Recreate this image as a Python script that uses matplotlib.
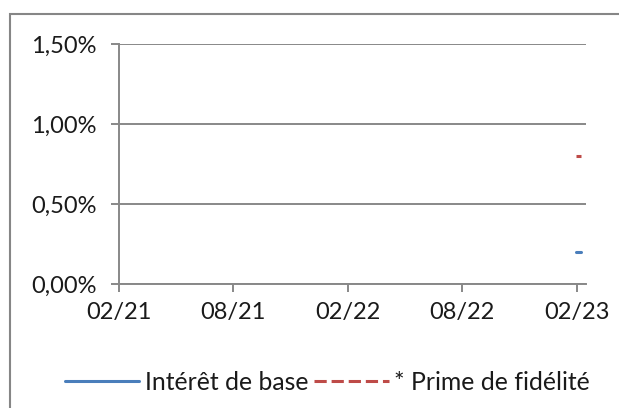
import matplotlib.pyplot as plt
import matplotlib.dates as mdates
import matplotlib.ticker as mticker
from matplotlib.patches import Rectangle
import pandas as pd

# data
dates = pd.to_datetime(['2023-01-30', '2023-02-07'])
interet_base = [0.0020, 0.0020]
prime_fidelite = [0.0080, 0.0080]
x_ticks = pd.to_datetime(['2021-02-01', '2021-08-01', '2022-02-01', '2022-08-01', '2023-02-01'])
y_ticks = [0.0, 0.005, 0.01, 0.015]

plt.rcParams['font.family'] = ['Lato', 'DejaVu Sans']
grid_col = '#888888'
fs = 17.0
fs_leg = 17.8

fig = plt.figure(figsize=(6.19, 4.08), dpi=100)
ax = fig.add_axes([119 / 619, 1 - 284 / 408, (586 - 119) / 619, 240 / 408])

# outer chart border
fig.patches.append(Rectangle((9.5 / 619, -0.05), 1.1, 1 - 14 / 408 + 0.05,
                             transform=fig.transFigure, fill=False,
                             edgecolor='#868686', linewidth=1.5, clip_on=False))

l1, = ax.plot(dates, interet_base, color='#4A7EBB', lw=2.2, solid_capstyle='round',
              label='Intérêt de base')
l2, = ax.plot(dates, prime_fidelite, color='#BE4B48', lw=2.2, ls=(0, (4, 1.6)),
              dash_capstyle='butt', label='* Prime de fidélité')

ax.set_xlim(pd.Timestamp('2021-02-01'), pd.Timestamp('2023-02-15'))
ax.set_ylim(0, 0.015)
ax.set_xticks(x_ticks)
ax.xaxis.set_major_formatter(mdates.DateFormatter('%m/%y'))
ax.set_yticks(y_ticks)
ax.yaxis.set_major_formatter(mticker.FuncFormatter(lambda v, p: f'{v*100:.2f}%'.replace('.', ',')))

ax.grid(axis='y', color=grid_col, lw=1.4)
ax.set_axisbelow(True)
for s in ['top', 'right']:
    ax.spines[s].set_visible(False)
for s in ['left', 'bottom']:
    ax.spines[s].set_color(grid_col)
    ax.spines[s].set_linewidth(1.4)
ax.tick_params(axis='both', colors=grid_col, width=1.4, length=5.8, labelcolor='#1a1a1a',
               labelsize=fs)
ax.tick_params(axis='y', pad=10.5)
ax.tick_params(axis='x', pad=7.5)

fig.legend(handles=[l1, l2], loc='center', bbox_to_anchor=(327.5 / 619, 1 - 382 / 408), ncol=2,
           frameon=False, fontsize=fs_leg, handlelength=3.0, handletextpad=0.24,
           columnspacing=0.24, labelcolor='#1a1a1a')

fig.savefig('out.png', dpi=100)
